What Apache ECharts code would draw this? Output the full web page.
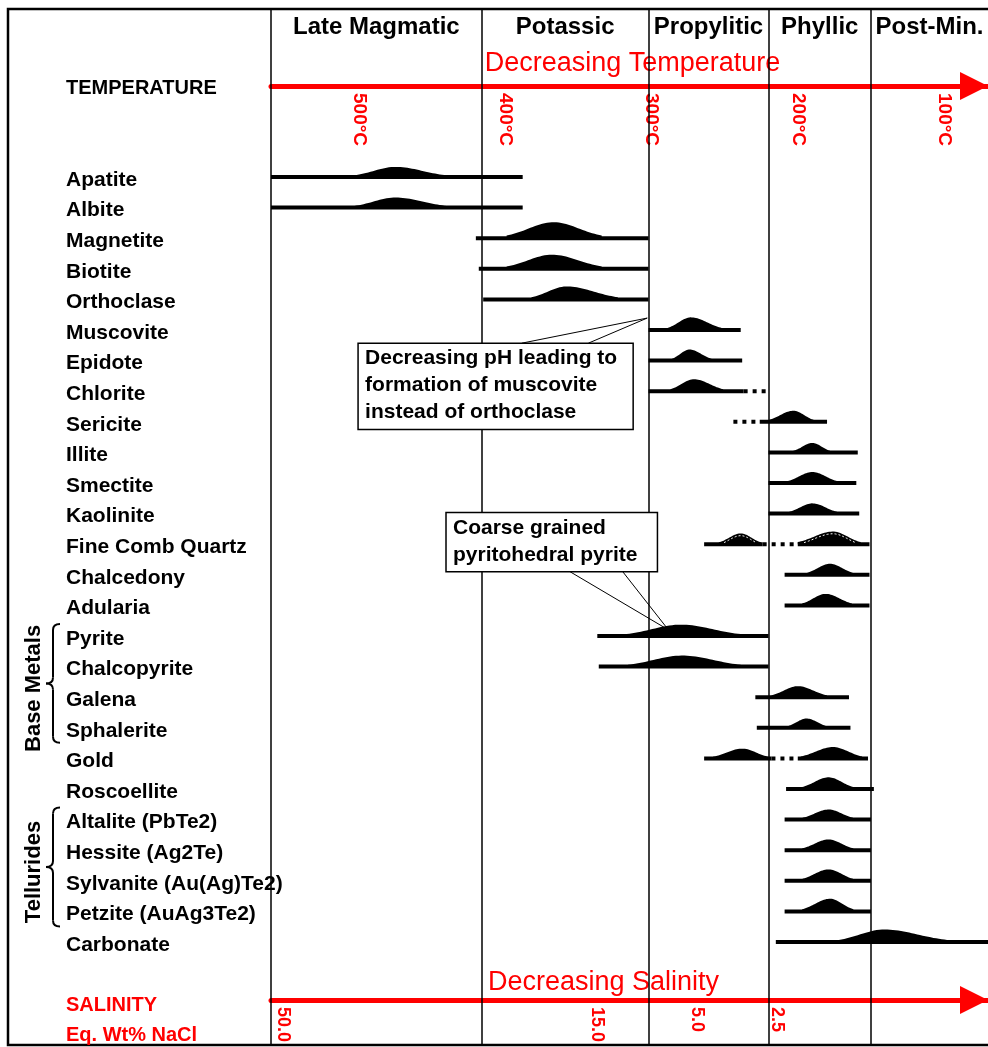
<!DOCTYPE html>
<html>
<head>
<meta charset="utf-8">
<title>Paragenetic sequence</title>
<script src="https://cdn.jsdelivr.net/npm/echarts@6/dist/echarts.min.js"></script>
<style>
  html, body { margin: 0; padding: 0; background: #fff; }
  #chart { width: 988px; height: 1047px; }
</style>
</head>
<body>
<div id="chart"></div>
<script>
// minerals, top to bottom (category axis)
const minerals = [
  'Apatite', 'Albite', 'Magnetite', 'Biotite', 'Orthoclase', 'Muscovite',
  'Epidote', 'Chlorite', 'Sericite', 'Illite', 'Smectite', 'Kaolinite',
  'Fine Comb Quartz', 'Chalcedony', 'Adularia', 'Pyrite', 'Chalcopyrite',
  'Galena', 'Sphalerite', 'Gold', 'Roscoellite', 'Altalite (PbTe2)',
  'Hessite (Ag2Te)', 'Sylvanite (Au(Ag)Te2)', 'Petzite (AuAg3Te2)', 'Carbonate'
];

// alteration stages and their temperature limits (°C)
const stages = ['Late Magmatic', 'Potassic', 'Propylitic', 'Phyllic', 'Post-Min.'];
const stageBounds = [560, 416, 302, 220, 150, 70];

// temperature ticks (°C)
const tempTicks = [500, 400, 300, 200, 100];

// salinity marks (eq. wt% NaCl) and the temperature they sit at
const salinityLabels = ['50.0', '15.0', '5.0', '2.5'];
const salinityAt = [552, 337, 269, 214];

// [mineral, line from °C, line to °C, peak start °C, peak °C, peak end °C, relative abundance]
const episodes = [
  ['Apatite',               560, 388, 503, 475, 440, 0.63],
  ['Albite',                560, 388, 503, 475, 440, 0.63],
  ['Magnetite',             420, 302, 399, 367, 334, 1.00],
  ['Biotite',               418, 302, 399, 368, 334, 0.88],
  ['Orthoclase',            415, 302, 382, 358, 323, 0.81],
  ['Muscovite',             302, 239, 289, 273, 252, 0.79],
  ['Epidote',               302, 238, 286, 274, 259, 0.69],
  ['Chlorite',              302, 237, 287, 271, 251, 0.75],
  ['Sericite',              226, 180, 220, 203, 189, 0.69],
  ['Illite',                220, 159, 203, 190, 178, 0.59],
  ['Smectite',              220, 160, 207, 190, 173, 0.69],
  ['Kaolinite',             220, 158, 206, 190, 173, 0.64],
  ['Fine Comb Quartz',      264, 224, 254, 239, 225, 0.67],
  ['Fine Comb Quartz',      200, 151, 200, 176, 157, 0.79],
  ['Chalcedony',            209, 151, 194, 178, 162, 0.69],
  ['Adularia',              209, 151, 197, 181, 163, 0.72],
  ['Pyrite',                337, 220, 317, 280, 239, 0.71],
  ['Chalcopyrite',          336, 220, 316, 279, 239, 0.69],
  ['Galena',                229, 165, 218, 200, 180, 0.69],
  ['Sphalerite',            228, 164, 207, 194, 180, 0.58],
  ['Gold',                  264, 218, 258, 238, 220, 0.61],
  ['Gold',                  200, 152, 198, 176, 156, 0.71],
  ['Roscoellite',           208, 148, 197, 179, 162, 0.73],
  ['Altalite (PbTe2)',      209, 150, 197, 179, 162, 0.63],
  ['Hessite (Ag2Te)',       209, 150, 197, 179, 162, 0.67],
  ['Sylvanite (Au(Ag)Te2)', 209, 150, 197, 179, 162, 0.71],
  ['Petzite (AuAg3Te2)',    209, 150, 197, 178, 162, 0.79],
  ['Carbonate',             215,  70, 172, 141,  98, 0.78]
];

// uncertain (dotted) extensions: [mineral, from °C, to °C]
const dotted = [
  ['Chlorite', 237, 220],
  ['Sericite', 244, 226],
  ['Fine Comb Quartz', 224, 200],
  ['Gold', 218, 200]
];

// bracketed groups: [label, first mineral, last mineral]
const groups = [
  ['Base Metals', 'Pyrite', 'Sphalerite'],
  ['Tellurides', 'Altalite (PbTe2)', 'Petzite (AuAg3Te2)']
];

// callout boxes, box = [left °C, top row, right °C, bottom row]
const callouts = [
  {
    lines: ['Decreasing pH leading to', 'formation of muscovite', 'instead of orthoclase'],
    box: [500.5, 5.43, 312.5, 8.25], edge: 'top', from: [388.6, 343.1], tip: [302.9, 4.61]
  },
  {
    lines: ['Coarse grained', 'pyritohedral pyrite'],
    box: [440.4, 10.96, 295.9, 12.9], edge: 'bottom', from: [355.6, 319.6], tip: [288.4, 14.8]
  }
];

const FONT = "'Liberation Sans', Arial, sans-serif";
const RED = '#ff0000';
const HUMP_MAX = 16;  // px for abundance 1.0
const outlined = ['Fine Comb Quartz'];

const rowOf = name => minerals.indexOf(name);

function renderEpisode(params, api) {
  const row = api.value(0);
  const y = api.coord([560, row])[1];
  const x = t => api.coord([t, row])[0];
  const x1 = x(api.value(1)), x2 = x(api.value(2));
  const ha = x(api.value(3)), hp = x(api.value(4)), hb = x(api.value(5));
  const h = api.value(6) * HUMP_MAX;
  const curve = [];
  const n = 40;
  for (let k = 0; k <= n; k++) {
    const px = ha + (hb - ha) * k / n;
    const u = px < hp ? (hp - px) / (hp - ha) : (px - hp) / (hb - hp);
    curve.push([px, y - h * Math.exp(-1.8 * u * u)]);
  }
  const children = [
    { type: 'rect', shape: { x: x1, y: y - 2, width: x2 - x1, height: 4 }, style: { fill: '#000' } },
    { type: 'polygon', shape: { points: [[ha, y]].concat(curve, [[hb, y]]) }, style: { fill: '#000' } }
  ];
  if (outlined.indexOf(minerals[row]) >= 0) {
    const inner = curve.filter(p => y - p[1] > 3.5).map(p => [p[0], p[1] + 2.2]);
    children.push({ type: 'polyline', shape: { points: inner },
      style: { stroke: '#fff', lineWidth: 1, lineDash: [2, 2], fill: null } });
  }
  return { type: 'group', children };
}

function renderDotted(params, api) {
  const row = api.value(0);
  const a = api.coord([api.value(1), row]);
  const b = api.coord([api.value(2), row]);
  return {
    type: 'line',
    shape: { x1: a[0], y1: a[1], x2: b[0], y2: b[1] },
    style: { stroke: '#000', lineWidth: 4, lineDash: [4, 5] }
  };
}

function renderGroup(params, api) {
  const g = groups[params.dataIndex];
  const left = params.coordSys.x;
  const top = api.coord([560, api.value(0)])[1] - 12;
  const bottom = api.coord([560, api.value(1)])[1] + 15;
  const mid = (top + bottom) / 2;
  const tipX = left - 211, stemX = left - 218, midX = left - 225;
  const st = { stroke: '#000', lineWidth: 2, fill: null };
  return {
    type: 'group',
    children: [
      { type: 'bezierCurve', shape: { x1: tipX, y1: top, cpx1: stemX, cpy1: top, x2: stemX, y2: top + 6 }, style: st },
      { type: 'line', shape: { x1: stemX, y1: top + 6, x2: stemX, y2: mid - 6 }, style: st },
      { type: 'bezierCurve', shape: { x1: stemX, y1: mid - 6, cpx1: stemX, cpy1: mid, x2: midX, y2: mid }, style: st },
      { type: 'bezierCurve', shape: { x1: midX, y1: mid, cpx1: stemX, cpy1: mid, x2: stemX, y2: mid + 6 }, style: st },
      { type: 'line', shape: { x1: stemX, y1: mid + 6, x2: stemX, y2: bottom - 6 }, style: st },
      { type: 'bezierCurve', shape: { x1: stemX, y1: bottom - 6, cpx1: stemX, cpy1: bottom, x2: tipX, y2: bottom }, style: st },
      {
        type: 'text', x: left - 237, y: mid + 5, rotation: Math.PI / 2,
        style: { text: g[0], fontSize: 22, fontWeight: 'bold', fontFamily: FONT, fill: '#000', align: 'center', verticalAlign: 'middle' }
      }
    ]
  };
}

function renderCallout(params, api) {
  const c = callouts[params.dataIndex];
  const y0 = api.coord([560, 0])[1];
  const band = api.size([0, 1])[1];
  const px = t => api.coord([t, 0])[0];
  const py = r => y0 + r * band;
  const left = px(c.box[0]), right = px(c.box[2]);
  const top = py(c.box[1]), bottom = py(c.box[3]);
  const tip = [px(c.tip[0]), py(c.tip[1])];
  const edgeY = c.edge === 'top' ? top : bottom;
  const leaders = c.from.map(t => ({
    type: 'line', shape: { x1: px(t), y1: edgeY, x2: tip[0], y2: tip[1] },
    style: { stroke: '#000', lineWidth: 1 }
  }));
  return {
    type: 'group',
    children: leaders.concat([
      { type: 'rect', shape: { x: left, y: top, width: right - left, height: bottom - top },
        style: { fill: '#fff', stroke: '#000', lineWidth: 1.5 } },
      { type: 'text', x: left + 7, y: top + 2,
        style: { text: c.lines.join('\n'), fontSize: 21, fontWeight: 'bold', fontFamily: FONT,
          fill: '#000', lineHeight: 27, align: 'left', verticalAlign: 'top' } }
    ])
  };
}

const chart = echarts.init(document.getElementById('chart'));

const arrowLine = {
  show: true, onZero: false, lineStyle: { color: RED, width: 5 },
  symbol: ['none', 'triangle'], symbolSize: [28, 28], symbolOffset: [0, -14]
};

const option = {
  animation: false,
  backgroundColor: '#fff',
  grid: [
    { left: 271, right: 0, top: 161.7, height: 795.6, outerBoundsMode: 'none', containLabel: false },
    { left: 271, right: 0, top: 9, bottom: 2, outerBoundsMode: 'none', containLabel: false },
    { left: 271, right: 0, top: 1000, bottom: 2, outerBoundsMode: 'none', containLabel: false }
  ],
  xAxis: [
    { gridIndex: 0, type: 'value', min: 70, max: 560, inverse: true, show: false },
    {
      gridIndex: 1, type: 'value', min: 70, max: 560, inverse: true, position: 'top', offset: -77,
      axisLine: arrowLine,
      axisTick: { show: false },
      splitLine: { show: false },
      axisLabel: {
        inside: true, rotate: 90, margin: 7, customValues: tempTicks,
        formatter: v => v + '°C', color: RED, fontWeight: 'bold', fontSize: 19, fontFamily: FONT
      },
      name: 'Decreasing Temperature', nameLocation: 'middle', nameGap: 9,
      nameTextStyle: { color: RED, fontSize: 27, fontFamily: FONT, padding: [0, 0, 0, 6] }
    },
    {
      gridIndex: 2, type: 'value', min: 70, max: 560, inverse: true, position: 'top',
      axisLine: arrowLine,
      axisTick: { show: false },
      splitLine: { show: false },
      axisLabel: {
        inside: true, rotate: 90, margin: 7, customValues: salinityAt,
        formatter: v => salinityLabels[salinityAt.indexOf(v)],
        color: RED, fontWeight: 'bold', fontSize: 18, fontFamily: FONT
      },
      name: 'Decreasing Salinity', nameLocation: 'middle', nameGap: 4,
      nameTextStyle: { color: RED, fontSize: 27, fontFamily: FONT, padding: [0, 52, 0, 0] }
    }
  ],
  yAxis: [
    {
      gridIndex: 0, type: 'category', data: minerals, inverse: true,
      axisLine: { show: false }, axisTick: { show: false }, splitLine: { show: false },
      axisLabel: {
        interval: 0, align: 'left', margin: 205,
        formatter: v => '{n|' + v + '}',
        rich: { n: { padding: [6, 0, 0, 0], fontSize: 21, fontWeight: 'bold', color: '#000', fontFamily: FONT } }
      }
    },
    { gridIndex: 1, type: 'value', min: 0, max: 1, show: false },
    { gridIndex: 2, type: 'value', min: 0, max: 1, show: false }
  ],
  graphic: [
    { type: 'rect', shape: { x: 8, y: 9, width: 1010, height: 1036 },
      style: { fill: 'none', stroke: '#000', lineWidth: 2.5 } },
    { type: 'text', x: 66, y: 88, style: { text: 'TEMPERATURE', fontSize: 20, fontWeight: 'bold',
      fontFamily: FONT, fill: '#000', verticalAlign: 'middle' } },
    { type: 'text', x: 66, y: 1005, style: { text: 'SALINITY', fontSize: 20, fontWeight: 'bold',
      fontFamily: FONT, fill: RED, verticalAlign: 'middle' } },
    { type: 'text', x: 66, y: 1035, style: { text: 'Eq. Wt% NaCl', fontSize: 20, fontWeight: 'bold',
      fontFamily: FONT, fill: RED, verticalAlign: 'middle' } }
  ],
  series: [
    {
      // stage boundaries and headers
      type: 'line', xAxisIndex: 1, yAxisIndex: 1, data: [],
      markLine: {
        silent: true, symbol: ['none', 'none'], label: { show: false },
        lineStyle: { color: '#000', width: 1.5, type: 'solid' },
        data: stageBounds.slice(0, -1).map(t => ({ xAxis: t }))
      },
      markArea: {
        silent: true, itemStyle: { color: 'rgba(0,0,0,0)' },
        label: { show: true, position: 'insideTop', distance: 6, color: '#000',
          fontSize: 24, fontWeight: 'bold', fontFamily: FONT },
        data: stages.map((s, i) => [{ name: s, xAxis: stageBounds[i] }, { xAxis: stageBounds[i + 1] }])
      }
    },
    {
      type: 'custom', xAxisIndex: 0, yAxisIndex: 0, renderItem: renderEpisode,
      encode: { x: [1, 2, 3, 4, 5], y: 0 },
      data: episodes.map(e => [rowOf(e[0])].concat(e.slice(1)))
    },
    {
      type: 'custom', xAxisIndex: 0, yAxisIndex: 0, renderItem: renderDotted,
      encode: { x: [1, 2], y: 0 },
      data: dotted.map(d => [rowOf(d[0]), d[1], d[2]])
    },
    {
      type: 'custom', xAxisIndex: 0, yAxisIndex: 0, renderItem: renderGroup,
      encode: { y: [0, 1] },
      data: groups.map(g => [rowOf(g[1]), rowOf(g[2])])
    },
    {
      type: 'custom', xAxisIndex: 0, yAxisIndex: 0, z: 20, renderItem: renderCallout,
      encode: { x: 0 },
      data: callouts.map(c => [c.tip[0], Math.round(c.tip[1])])
    }
  ]
};

chart.setOption(option);
</script>
</body>
</html>
